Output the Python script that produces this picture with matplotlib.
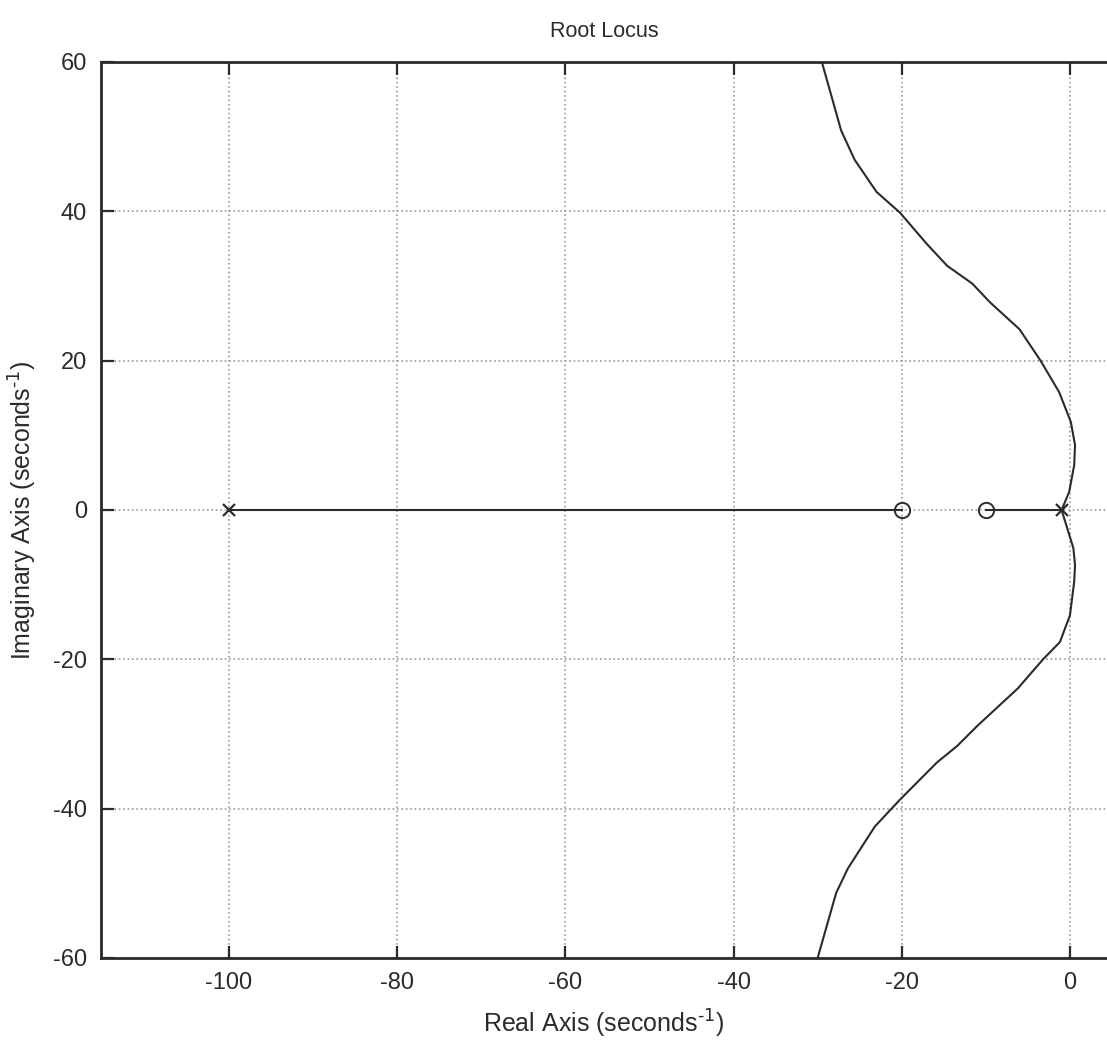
#!/usr/bin/env python3

import matplotlib
matplotlib.use("Agg")
import matplotlib.pyplot as plt

plt.rcParams["font.family"] = ["Liberation Sans", "DejaVu Sans"]
plt.rcParams["axes.unicode_minus"] = False

# open-loop poles and zeros
poles = [-100.0, -1.0]
zeros = [-20.0, -10.0]

# locus segments on the real axis
real_seg_a = [-100.0, -20.0]
real_seg_b = [-10.0, -1.0]

# complex branches
upper_x = [-1.0, -0.1, 0.5, 0.6, 0.1, -1.3, -3.5, -6.0, -9.5, -11.6, -14.6,
           -17.0, -20.2, -23.0, -25.6, -27.2, -29.5]
upper_y = [0.0, 2.4, 6.0, 8.7, 11.8, 15.8, 20.0, 24.2, 27.8, 30.3, 32.7,
           35.6, 39.8, 42.6, 46.9, 50.8, 60.0]
lower_x = [-1.0, 0.4, 0.6, 0.5, 0.0, -1.2, -3.2, -6.2, -11.0, -13.4, -15.8,
           -20.3, -23.2, -26.4, -27.8, -30.0]
lower_y = [0.0, -5.1, -7.4, -9.6, -14.1, -17.7, -20.0, -23.9, -28.9, -31.6,
           -33.8, -38.9, -42.4, -48.0, -51.3, -60.0]

x_ticks = [-100, -80, -60, -40, -20, 0]
y_ticks = [-60, -40, -20, 0, 20, 40, 60]

ink = "#2b2b2b"
grey = "#9a9a9a"

fig = plt.figure(figsize=(11.07, 10.52), dpi=100)
ax = fig.add_axes([0.0912, 0.0894, 0.9088, 0.8517])

ax.set_xlim(-115.2, 4.4)
ax.set_ylim(-60, 60)
ax.set_xticks(x_ticks)
ax.set_yticks(y_ticks)
ax.grid(True, linestyle=":", color=grey, linewidth=1.2)
ax.set_axisbelow(True)

ax.plot(real_seg_a, [0, 0], color=ink, linewidth=1.5)
ax.plot(real_seg_b, [0, 0], color=ink, linewidth=1.5)
ax.plot(upper_x, upper_y, color=ink, linewidth=1.5)
ax.plot(lower_x, lower_y, color=ink, linewidth=1.5)

ax.plot(poles, [0] * len(poles), linestyle="none", marker="x",
        markersize=9, markeredgewidth=1.6, color=ink)
ax.plot(zeros, [0] * len(zeros), linestyle="none", marker="o",
        markersize=11, markerfacecolor="none", markeredgewidth=1.4, color=ink)

for side in ["left", "bottom", "top"]:
    ax.spines[side].set_color(ink)
    ax.spines[side].set_linewidth(2.0)
ax.spines["right"].set_visible(False)

ax.tick_params(direction="in", length=9, width=1.6, colors=ink,
               labelsize=17, top=True, pad=10)

ax.set_title("Root Locus", fontsize=15.5, color=ink, pad=18)
ax.set_xlabel(r"Real Axis (seconds$^{\text{-1}}$)", fontsize=18, color=ink, labelpad=10)
ax.set_ylabel(r"Imaginary Axis (seconds$^{\text{-1}}$)", fontsize=18, color=ink, labelpad=10)

fig.savefig("out.png", dpi=100, facecolor="white")
